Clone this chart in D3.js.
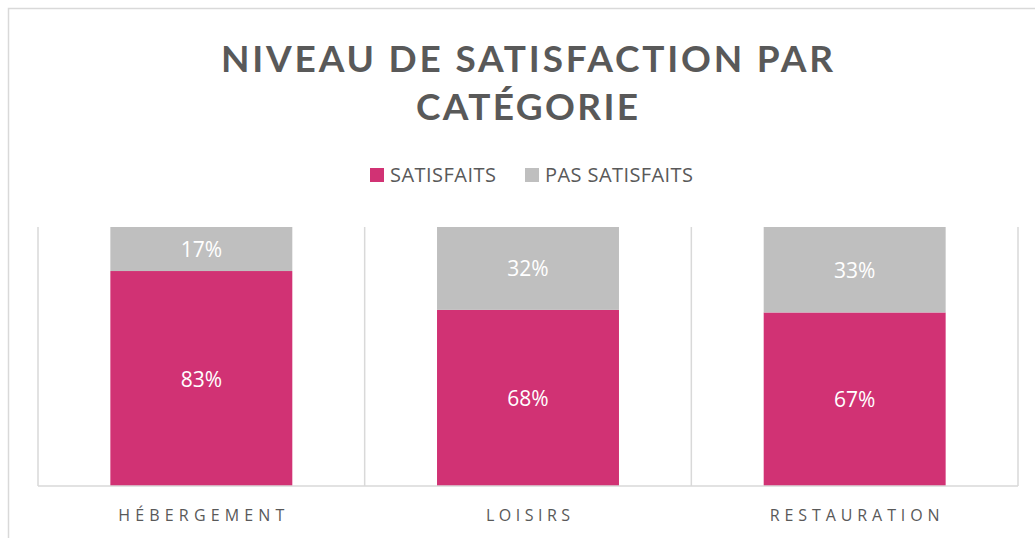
<!DOCTYPE html>
<html><head><meta charset="utf-8">
<script src="https://cdn.jsdelivr.net/npm/d3@7"></script>
<style>body{margin:0;background:#fff}svg{display:block}text{font-family:"Open Sans",sans-serif}</style>
</head><body>
<svg id="c" width="1035" height="538"></svg>
<script>
const categories = ["HÉBERGEMENT", "LOISIRS", "RESTAURATION"];
const seriesNames = ["SATISFAITS", "PAS SATISFAITS"];
const satisfaits = [83, 68, 67];
const pasSatisfaits = [17, 32, 33];
const colors = ["#D13274", "#BFBFBF"];
const titleLines = ["NIVEAU DE SATISFACTION PAR", "CATÉGORIE"];

const svg = d3.select("#c");
const W = 1035, H = 538;
const m = {left: 38, right: 1018, top: 227, bottom: 486};

// chart frame
svg.append("rect").attr("x", 8.5).attr("y", 8.5).attr("width", W + 20).attr("height", H + 20)
  .attr("fill", "#fff").attr("stroke", "#d9d9d9").attr("stroke-width", 1.5);

// title
const tt = svg.append("text").attr("text-anchor", "middle").attr("fill", "#595959")
  .attr("font-weight", "bold").attr("font-size", 37).style("font-family", "Lato, sans-serif");
tt.append("tspan").attr("x", 527).attr("y", 72).attr("textLength", 612).attr("lengthAdjust", "spacing").text(titleLines[0]);
tt.append("tspan").attr("x", 527).attr("y", 120).attr("textLength", 222).attr("lengthAdjust", "spacing").text(titleLines[1]);

// data
const data = categories.map((c, i) => ({cat: c, SATISFAITS: satisfaits[i], "PAS SATISFAITS": pasSatisfaits[i]}));
const stack = d3.stack().keys(seriesNames)(data);

const x = d3.scaleBand().domain(categories).range([m.left, m.right]).paddingInner(0.443).paddingOuter(0.2215);
const y = d3.scaleLinear().domain([0, 100]).range([m.bottom, m.top]);

// vertical gridlines at band boundaries
const bounds = d3.range(categories.length + 1).map(i => m.left + i * (m.right - m.left) / categories.length);
svg.append("g").selectAll("line").data(bounds).join("line")
  .attr("x1", d => d).attr("x2", d => d).attr("y1", m.top).attr("y2", m.bottom)
  .attr("stroke", "#d9d9d9").attr("stroke-width", 1.5);

// bars
const g = svg.append("g");
stack.forEach((s, si) => {
  g.append("g").selectAll("rect").data(s).join("rect")
    .attr("x", d => x(d.data.cat)).attr("width", x.bandwidth())
    .attr("y", d => y(d[1])).attr("height", d => y(d[0]) - y(d[1]))
    .attr("fill", colors[si]);
  g.append("g").selectAll("text").data(s).join("text")
    .attr("x", d => x(d.data.cat) + x.bandwidth() / 2)
    .attr("y", d => (y(d[0]) + y(d[1])) / 2 + 8)
    .attr("text-anchor", "middle").attr("fill", "#fff").attr("font-size", 21)
    .text(d => (d[1] - d[0]) + "%");
});

// x axis baseline
svg.append("line").attr("x1", m.left).attr("x2", m.right).attr("y1", m.bottom).attr("y2", m.bottom)
  .attr("stroke", "#d9d9d9").attr("stroke-width", 1.5);

// category labels
const catW = {"HÉBERGEMENT": 166, "LOISIRS": 84, "RESTAURATION": 170};
svg.append("g").selectAll("text").data(categories).join("text")
  .attr("x", d => x(d) + x.bandwidth() / 2).attr("y", 520.5)
  .attr("text-anchor", "middle").attr("fill", "#595959").attr("font-size", 16)
  .attr("textLength", d => catW[d]).attr("lengthAdjust", "spacing")
  .text(d => d);

// legend
const legX = [370, 525];
const legW = [106, 148];
const lg = svg.append("g").selectAll("g").data(seriesNames).join("g")
  .attr("transform", (d, i) => `translate(${legX[i]},168)`);
lg.append("rect").attr("width", 14).attr("height", 14).attr("fill", (d, i) => colors[i]);
lg.append("text").attr("x", 20).attr("y", 14).attr("fill", "#595959").attr("font-size", 20)
  .attr("textLength", (d, i) => legW[i]).attr("lengthAdjust", "spacing")
  .text(d => d);
</script>
</body></html>
